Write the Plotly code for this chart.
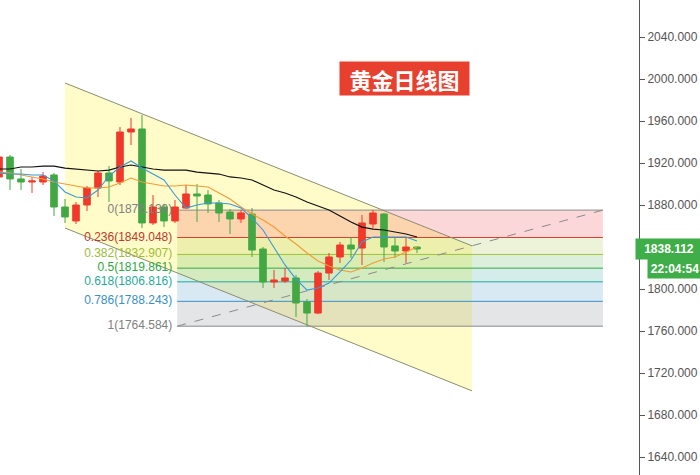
import plotly.graph_objects as go

# ---------------- data ----------------
idx = list(range(39))
opens  = [1906.7,1925.7,1904.8,1901.9,1901.9,1908.6,1878.1,1864.8,1880.0,1896.2,
          1910.5,1901.9,1949.5,1952.4,1862.9,1878.1,1864.8,1877.1,1890.5,1889.5,
          1881.9,1873.3,1866.7,1871.4,1838.1,1806.7,1807.6,1810.5,1787.6,1777.1,
          1815.2,1830.5,1841.9,1839.0,1861.9,1871.4,1841.0,1836.2,1840.0]
highs  = [1927.6,1927.6,1914.3,1906.7,1911.4,1910.5,1885.7,1882.9,1898.1,1912.4,
          1917.1,1954.3,1962.9,1965.7,1889.5,1881.0,1884.8,1899.0,1900.0,1894.3,
          1884.8,1876.2,1875.2,1877.1,1840.0,1818.1,1820.0,1813.3,1790.5,1817.1,
          1834.3,1844.8,1849.5,1870.5,1875.139,1872.4,1849.5,1849.5,1840.5]
lows   = [1903.8,1894.3,1894.3,1891.4,1899.0,1869.5,1862.9,1861.9,1874.3,1887.6,
          1882.9,1899.0,1937.1,1858.1,1861.0,1859.0,1862.9,1876.2,1863.8,1872.4,
          1863.8,1852.4,1862.9,1830.5,1801.0,1801.0,1805.7,1773.3,1764.584,1776.0,
          1808.6,1824.8,1829.5,1822.9,1858.1,1825.7,1829.5,1824.8,1834.3]
closes = [1925.7,1904.8,1901.9,1902.9,1907.6,1878.1,1868.6,1880.0,1896.2,1910.5,
          1902.9,1949.5,1952.4,1862.9,1878.1,1864.8,1878.1,1890.5,1888.6,1881.0,
          1872.4,1866.7,1872.4,1837.1,1806.7,1808.6,1810.5,1786.7,1777.1,1815.2,
          1830.5,1841.9,1838.1,1862.9,1872.4,1840.0,1836.2,1840.0,1838.112]

ma_fast = [1910.5,1909.5,1909.5,1908.6,1908.6,1902.9,1892.4,1887.6,1886.7,1894.3,
           1907.6,1916.2,1921.9,1915.2,1909.5,1903.8,1889.5,1877.1,1880.0,1881.9,
           1881.9,1881.0,1877.1,1867.6,1856.2,1840.0,1822.9,1809.5,1799.0,1800.9,
           1805.7,1816.2,1827.6,1844.8,1849.5,1849.5,1849.5,1849.5,1845.7]
ma_mid  = [1911.4,1910.5,1908.6,1906.7,1904.8,1901.9,1900.0,1898.1,1896.2,1896.2,
           1897.1,1901.0,1905.7,1901.9,1900.0,1898.1,1898.1,1899.0,1898.1,1897.1,
           1891.4,1885.7,1878.1,1871.4,1865.7,1859.0,1850.5,1842.9,1834.3,1826.7,
           1821.9,1818.1,1816.2,1820.0,1824.8,1828.6,1830.5,1835.2,1840.0]
ma_slow = [1914.3,1914.3,1916.2,1916.2,1917.1,1917.1,1915.2,1914.3,1913.3,1912.4,
           1913.3,1916.2,1918.1,1916.2,1914.3,1913.3,1913.3,1913.3,1911.4,1910.5,
           1909.5,1906.7,1905.7,1903.8,1899.0,1894.3,1891.4,1887.6,1882.9,1879.0,
           1875.2,1869.5,1863.8,1859.0,1857.1,1856.2,1854.3,1852.4,1849.5]

# channel (x index, price)
chan_x = [6.0, 43.0]
chan_upper = [1996.2, 1841.1]
chan_lower = [1858.1, 1703.0]

# fibonacci retracement
fib_x = [16.2, 54.9]
fib_ratios = [0, 0.236, 0.382, 0.5, 0.618, 0.786, 1]
fib_prices = [1875.139, 1849.048, 1832.907, 1819.861, 1806.816, 1788.243, 1764.584]
fib_line_colors = ["#8a8a8a", "#d8412f", "#a0c23c", "#34a844", "#1fab9a", "#3a8fc8", "#8a8a8a"]
fib_fill_colors = [None, "rgba(242,54,69,0.2)", "rgba(160,194,60,0.2)", "rgba(76,175,80,0.2)",
                   "rgba(38,166,154,0.2)", "rgba(58,143,200,0.2)", "rgba(120,123,134,0.2)"]
fib_label_colors = ["#808080", "#c0392b", "#9dbb3a", "#2ea83f", "#1fab9a", "#3a8fc8", "#808080"]

ytick_vals = [1640, 1680, 1720, 1760, 1800, 1880, 1920, 1960, 2000, 2040]
last_price = 1838.112
countdown = "22:04:54"
title_text = "黄金日线图"

# ---------------- figure ----------------
fig = go.Figure()

# fib labels (drawn first, so candles sit on top)
fig.add_trace(go.Scatter(
    x=[fib_x[0] - 0.45] * len(fib_prices), y=fib_prices, mode="text",
    text=[f"{r}({p:.3f})" for r, p in zip(fib_ratios, fib_prices)],
    textposition="middle left",
    textfont=dict(family="Liberation Sans, Arial", size=12, color=fib_label_colors),
    hoverinfo="skip", showlegend=False))

fig.add_trace(go.Candlestick(
    x=idx, open=opens, high=highs, low=lows, close=closes,
    increasing=dict(line=dict(color="#f0392b", width=1), fillcolor="#f0392b"),
    decreasing=dict(line=dict(color="#43a843", width=1), fillcolor="#43a843"),
    whiskerwidth=0, showlegend=False))

fig.add_trace(go.Scatter(x=idx, y=ma_slow, mode="lines",
                         line=dict(color="#111111", width=1.2), showlegend=False))
fig.add_trace(go.Scatter(x=idx, y=ma_mid, mode="lines",
                         line=dict(color="#f39a36", width=1.1), showlegend=False))
fig.add_trace(go.Scatter(x=idx, y=ma_fast, mode="lines",
                         line=dict(color="#3a9ad9", width=1.1), showlegend=False))

shapes = []
# channel fill
shapes.append(dict(type="path", xref="x", yref="y", layer="below",
                   path=f"M {chan_x[0]},{chan_upper[0]} L {chan_x[1]},{chan_upper[1]} "
                        f"L {chan_x[1]},{chan_lower[1]} L {chan_x[0]},{chan_lower[0]} Z",
                   fillcolor="rgba(255,245,100,0.35)", line=dict(width=0)))
# fib bands
for k in range(1, len(fib_prices)):
    shapes.append(dict(type="rect", xref="x", yref="y", layer="below",
                       x0=fib_x[0], x1=fib_x[1], y0=fib_prices[k], y1=fib_prices[k - 1],
                       fillcolor=fib_fill_colors[k], line=dict(width=0)))
# fib lines
for p, c in zip(fib_prices, fib_line_colors):
    shapes.append(dict(type="line", xref="x", yref="y", layer="below",
                       x0=fib_x[0], x1=fib_x[1], y0=p, y1=p, line=dict(color=c, width=1)))
# channel border lines
shapes.append(dict(type="line", xref="x", yref="y", layer="below",
                   x0=chan_x[0], x1=chan_x[1], y0=chan_upper[0], y1=chan_upper[1],
                   line=dict(color="#8c8c70", width=1)))
shapes.append(dict(type="line", xref="x", yref="y", layer="below",
                   x0=chan_x[0], x1=chan_x[1], y0=chan_lower[0], y1=chan_lower[1],
                   line=dict(color="#8c8c70", width=1)))
# fib trend (dashed diagonal)
shapes.append(dict(type="line", xref="x", yref="y", layer="below",
                   x0=fib_x[0], x1=fib_x[1], y0=fib_prices[-1], y1=fib_prices[0],
                   line=dict(color="#8a8a8a", width=1, dash="dash")))

annotations = [
    dict(xref="paper", yref="paper", x=404 / 639, y=1 - 78 / 475,
         text=f"<b>{title_text}</b>", showarrow=False,
         font=dict(family="Noto Sans CJK SC", size=22, color="white"),
         bgcolor="#e8402f", width=127, height=31, xanchor="center", yanchor="middle"),
    dict(xref="paper", yref="y", x=1, y=last_price, xanchor="left", yanchor="middle",
         text=f"<b>{last_price:.3f}</b>", showarrow=False, xshift=-4,
         font=dict(family="Liberation Sans, Arial", size=12, color="white"),
         bgcolor="#3fae49", width=64, height=18, align="center"),
    dict(xref="paper", yref="y", x=1, y=last_price, xanchor="left", yanchor="top",
         text=f"<b>{countdown}</b>", showarrow=False, xshift=8, yshift=-9,
         font=dict(family="Liberation Sans, Arial", size=12, color="white"),
         bgcolor="#3fae49", width=52, height=17, align="center"),
]

fig.update_layout(
    width=700, height=475,
    margin=dict(l=0, r=61, t=0, b=0),
    paper_bgcolor="white", plot_bgcolor="white",
    shapes=shapes, annotations=annotations,
    showlegend=False,
    boxgap=0.15,
    xaxis=dict(range=[1 / 11, 640 / 11], visible=False, rangeslider=dict(visible=False)),
    yaxis=dict(range=[2040 - 438 / 1.05, 2040 + 37 / 1.05], side="right",
               tickvals=ytick_vals, tickformat=".3f",
               showgrid=False, zeroline=False,
               showline=True, linecolor="#555555", linewidth=1,
               ticks="outside", ticklen=5, tickcolor="#555555",
               tickfont=dict(family="Liberation Sans, Arial", size=12, color="#555555")),
)

fig.write_html("out.html", config={"displayModeBar": False},
               post_script="document.body.style.margin='0';document.body.style.overflow='hidden';")
